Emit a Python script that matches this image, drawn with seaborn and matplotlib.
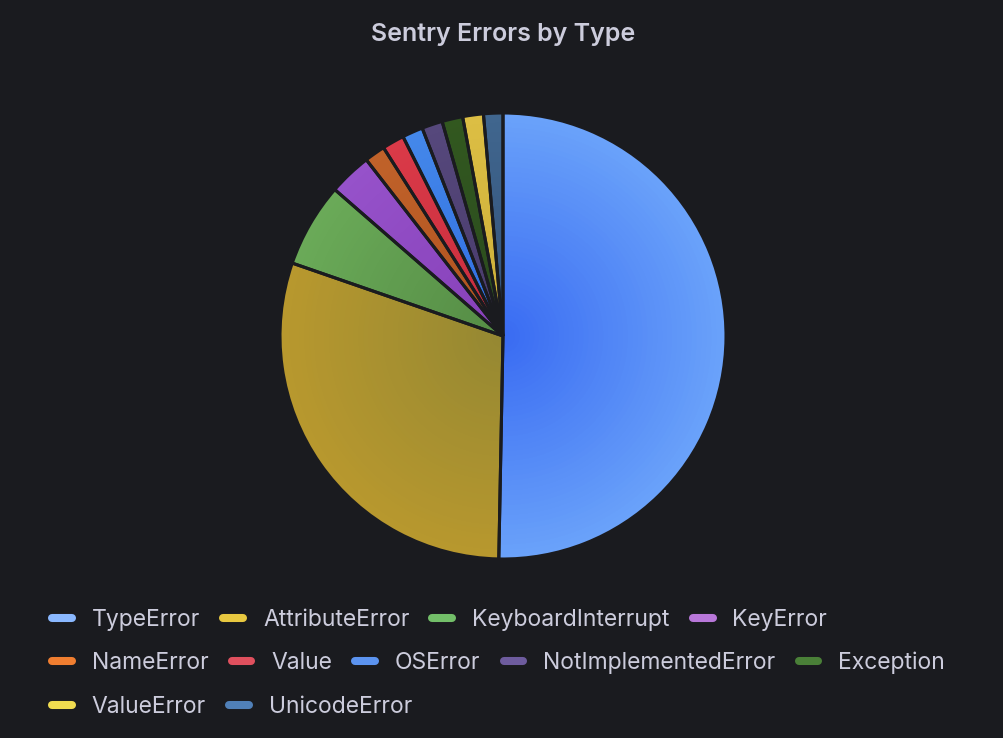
import numpy as np
import seaborn as sns
import matplotlib.pyplot as plt
from matplotlib.lines import Line2D
from matplotlib.colors import to_rgb

# error types and their share of the total
error_types = ['TypeError', 'AttributeError', 'KeyboardInterrupt', 'KeyError',
               'NameError', 'Value', 'OSError', 'NotImplementedError',
               'Exception', 'ValueError', 'UnicodeError']
error_share = [50.3, 30.0, 6.1, 3.1, 1.5, 1.6, 1.5, 1.5, 1.5, 1.5, 1.4]

# legend colours and the dark/light ends of each slice gradient
legend_colors = ['#8AB8FF', '#E8C840', '#73BF69', '#B877D9', '#F07E30', '#E0505E',
                 '#5C94F0', '#6E5C9E', '#4A8038', '#F0DC50', '#5080B8']
inner_colors = ['#3A6CF2', '#958832', '#558C45', '#8640B8', '#B0521E', '#C82C3C',
                '#2F6CE0', '#483A6A', '#2A4A1E', '#CCAE38', '#33527A']
outer_colors = ['#6AA2FA', '#B8982E', '#6AAA58', '#9652CA', '#C0622A', '#DA3A48',
                '#4488EA', '#56487C', '#32581F', '#DCBE44', '#40668E']

legend_rows = [error_types[0:4], error_types[4:9], error_types[9:11]]

bg = '#1A1B1F'
txt = '#CCCCDC'

sns.set_theme(style='dark', rc={'figure.facecolor': bg, 'axes.facecolor': bg,
                                'savefig.facecolor': bg, 'text.color': txt})
plt.rcParams['font.family'] = ['Inter', 'DejaVu Sans']

fig = plt.figure(figsize=(10.04, 7.38), dpi=100)

# pie axes: centre (503, 336) px, radius 223 px
r_px = 223
ax = fig.add_axes([(503 - r_px) / 1004, (738 - 336 - r_px) / 738,
                   2 * r_px / 1004, 2 * r_px / 738])
ax.set_facecolor(bg)

# radial gradient: stack shrinking pies, light outside -> dark in the middle
n_layers = 45
inner = np.array([to_rgb(c) for c in inner_colors])
outer = np.array([to_rgb(c) for c in outer_colors])
for i in range(n_layers):
    t = i / (n_layers - 1)
    cols = outer * (1 - t) + inner * t
    ax.pie(error_share, colors=[tuple(c) for c in cols], startangle=90,
           counterclock=False, radius=1 - 0.97 * t,
           wedgeprops=dict(linewidth=0, antialiased=True))

# separators between slices
ax.pie(error_share, colors=['none'] * len(error_share), startangle=90,
       counterclock=False, radius=1.0,
       wedgeprops=dict(linewidth=2.2, edgecolor=bg, fill=False))
ax.set_xlim(-1.0, 1.0)
ax.set_ylim(-1.0, 1.0)
ax.set_aspect('equal')
ax.axis('off')

fig.text(503 / 1004, 1 - 34 / 738, 'Sentry Errors by Type', ha='center', va='center',
         fontsize=18, fontweight='semibold', color=txt)

# legend as three flowing rows
color_of = dict(zip(error_types, legend_colors))
row_y = [620, 663, 707]
fs = 16.5
for names, y in zip(legend_rows, row_y):
    handles = [Line2D([0], [0], color=color_of[n], lw=5.8, solid_capstyle='round')
               for n in names]
    fig.legend(handles, names, loc='center left',
               bbox_to_anchor=(52 / 1004, 1 - y / 738), ncol=len(names),
               frameon=False, fontsize=fs, labelcolor=txt,
               handlelength=0.87, handletextpad=0.87, columnspacing=1.0,
               borderpad=0, borderaxespad=0)

fig.savefig('out.png', dpi=100, facecolor=bg)
